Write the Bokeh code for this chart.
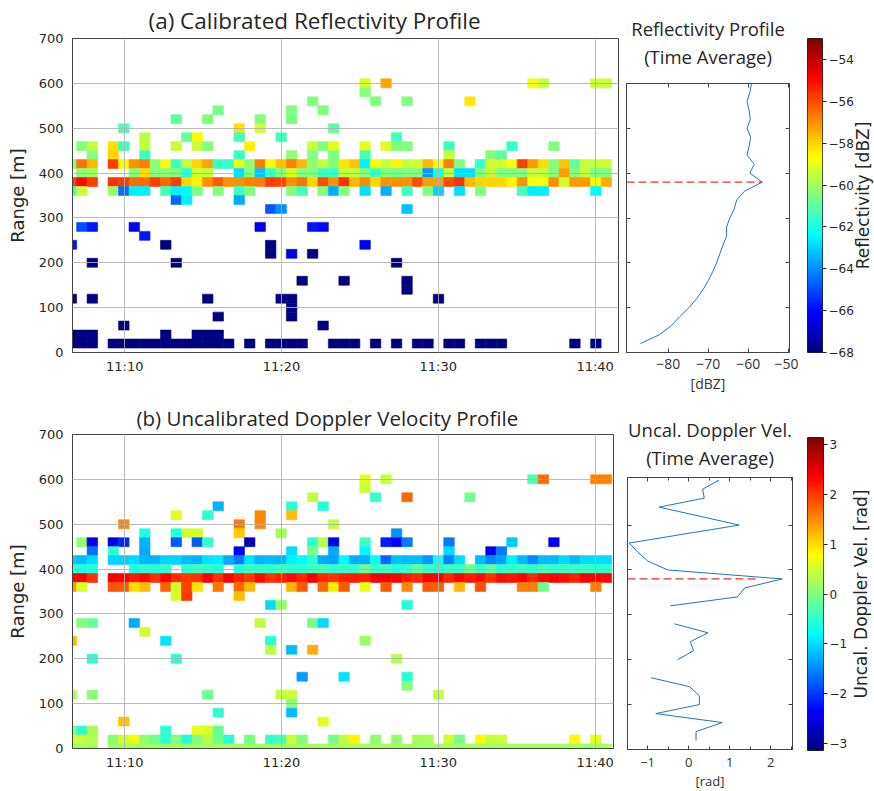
import math
import numpy as np
from bokeh.plotting import figure
from bokeh.layouts import row, column
from bokeh.models import (ColumnDataSource, FixedTicker, LinearAxis, Range1d,
                          LinearColorMapper, CustomLabelingPolicy)
from bokeh.transform import linear_cmap
from bokeh.embed import file_html
from bokeh.resources import INLINE

# ---------------- sampling grid ----------------
T0_MIN = 6.932      # left edge of profile column 0, minutes after 11:00
DT_MIN = 0.669      # one profile every ~40 s
GATE_M = 20         # range gate [m]
X_START = 6.671     # left end of the time axis (minutes after 11:00)
X_END_A = 41.49
X_END_B = 41.17
TIME_TICKS = [10, 20, 30, 40]
TIME_TICK_LABELS = ["11:10", "11:20", "11:30", "11:40"]
RANGE_TICKS = [0, 100, 200, 300, 400, 500, 600, 700]

REFL_LOW, REFL_HIGH = -68.0, -53.0
DOPP_LOW, DOPP_HIGH = -math.pi, math.pi
REFL_CB_TICKS = [-54, -56, -58, -60, -62, -64, -66, -68]
DOPP_CB_TICKS = [3, 2, 1, 0, -1, -2, -3]

# ---------------- (a) calibrated reflectivity: (column, dBZ) per gate -------
refl_r600 = [(27, -59.2), (29, -57.3), (43, -58.8), (44, -59.4), (49, -59.4), (50, -59.4)]
refl_r580 = [(27, -60.5)]
refl_r560 = [(22, -60.5), (28, -60.5), (31, -60.5), (37, -58.3)]
refl_r540 = [(13, -60.7), (20, -60.5), (23, -60.5)]
refl_r520 = [(9, -61.0), (12, -60.5), (17, -60.5), (20, -60.6)]
refl_r500 = [(4, -61.3), (15, -58.2), (17, -59.3), (24, -61.0)]
refl_r480 = [(6, -59.6), (10, -60.8), (11, -58.6), (15, -61.4), (19, -61.4), (30, -61.4)]
refl_r460 = [(0, -60.5), (1, -59.5), (3, -58.2), (4, -61.4), (6, -59.5), (9, -59.4),
             (11, -59.4), (12, -60.5), (16, -58.4), (22, -59.4), (23, -60.5), (24, -59.0),
             (27, -59.0), (29, -59.1), (30, -60.5), (31, -60.5), (35, -61.5), (41, -61.5),
             (45, -60.5)]
refl_r440 = [(1, -60.5), (3, -58.0), (6, -61.5), (15, -61.5), (20, -60.3), (22, -60.5),
             (24, -60.5), (27, -61.3), (35, -59.4), (39, -60.5), (40, -61.0)]
refl_r420 = [(-1, -60.5), (0, -56.6), (1, -57.6), (3, -55.8), (4, -58.6), (5, -57.0),
             (6, -56.8), (7, -60.3), (8, -58.8), (9, -61.5), (10, -59.5), (11, -58.0),
             (12, -57.3), (13, -61.5), (14, -61.6), (15, -58.9), (16, -60.3), (17, -56.7),
             (18, -58.8), (19, -57.8), (20, -56.8), (21, -57.6), (22, -60.3), (23, -59.5),
             (24, -60.5), (25, -58.3), (26, -57.8), (27, -62.5), (28, -58.7), (29, -59.5),
             (30, -58.5), (31, -59.4), (32, -59.3), (33, -57.6), (34, -58.6), (35, -56.8),
             (36, -60.5), (38, -61.6), (39, -59.3), (40, -59.3), (41, -58.6), (42, -55.8),
             (43, -57.2), (44, -58.2), (45, -60.4), (46, -57.8), (47, -61.0), (48, -59.5),
             (49, -59.5), (50, -59.3)]
refl_r400 = [(0, -60.3), (1, -60.0), (5, -60.5), (6, -58.2), (7, -60.5), (8, -60.3),
             (9, -60.5), (10, -61.8), (11, -59.3), (12, -59.6), (15, -62.8), (16, -60.5),
             (17, -63.2), (18, -61.5), (19, -60.5), (20, -59.2), (21, -60.5), (22, -60.4),
             (23, -61.5), (24, -61.5), (25, -59.5), (26, -59.6), (27, -60.5), (28, -61.5),
             (29, -60.5), (30, -60.7), (31, -60.5), (32, -60.5), (33, -63.8), (34, -62.0),
             (35, -59.6), (36, -62.8), (37, -62.8), (38, -60.5), (39, -59.6), (40, -60.5),
             (41, -60.5), (42, -60.5), (43, -59.5), (44, -59.5), (45, -60.5), (46, -57.2),
             (47, -60.5), (48, -59.5), (49, -60.5), (50, -60.5)]
refl_r380 = [(-1, -55.8), (0, -55.0), (1, -55.8), (3, -55.6), (4, -55.8), (5, -56.5),
             (6, -56.4), (7, -55.8), (8, -56.4), (9, -55.8), (10, -58.0), (11, -58.4),
             (12, -57.0), (13, -56.2), (14, -57.0), (15, -57.0), (16, -56.8), (17, -56.8),
             (18, -55.8), (19, -55.9), (20, -57.0), (21, -56.6), (22, -58.0), (23, -56.0),
             (24, -57.0), (25, -55.6), (26, -57.6), (27, -56.9), (28, -58.0), (29, -57.0),
             (30, -57.0), (31, -57.0), (32, -56.0), (33, -57.2), (34, -57.2), (35, -56.0),
             (36, -55.6), (37, -57.6), (38, -58.0), (39, -58.0), (40, -58.0), (41, -58.5),
             (42, -57.0), (43, -58.7), (44, -58.7), (45, -57.0), (46, -59.3), (47, -57.2),
             (48, -57.2), (49, -58.6), (50, -57.4)]
refl_r360 = [(-1, -61.5), (0, -59.4), (3, -60.2), (4, -64.5), (5, -62.6), (6, -62.6),
             (8, -61.4), (9, -62.6), (10, -62.4), (11, -60.5), (13, -60.5), (15, -61.5),
             (16, -60.5), (20, -60.5), (21, -61.4), (23, -60.5), (24, -63.5), (25, -60.5),
             (27, -62.8), (29, -63.5), (31, -61.4), (33, -60.5), (34, -63.0), (36, -62.8),
             (38, -60.5), (42, -61.4), (43, -62.6), (44, -62.6), (49, -62.4)]
refl_r340 = [(9, -64.6), (10, -62.5), (15, -63.6)]
refl_r320 = [(18, -64.8), (19, -64.0), (31, -63.2)]
refl_r280 = [(0, -65.0), (1, -65.8), (5, -66.3), (17, -66.3), (22, -65.8), (23, -66.0)]
refl_r260 = [(6, -65.8)]
refl_r240 = [(-1, -65.8), (8, -68.0), (18, -68.0), (27, -66.3)]
refl_r220 = [(18, -68.0), (20, -66.5), (22, -68.0)]
refl_r200 = [(1, -68.0), (9, -68.0), (30, -68.0)]
refl_r160 = [(21, -68.0), (25, -68.0), (31, -68.0)]
refl_r140 = [(31, -68.0)]
refl_r120 = [(-1, -68.0), (1, -68.0), (12, -68.0), (19, -68.0), (20, -68.0), (34, -68.0)]
refl_r100 = [(20, -68.0)]
refl_r80 = [(13, -68.0), (20, -68.0)]
refl_r60 = [(4, -68.0), (23, -68.0)]
refl_r40 = [(-1, -68.0), (0, -68.0), (1, -68.0), (8, -68.0), (11, -68.0), (12, -68.0),
            (13, -68.0)]
refl_r20 = [(-1, -68.0), (0, -68.0), (1, -68.0), (3, -68.0), (4, -68.0), (5, -68.0),
            (6, -68.0), (7, -68.0), (8, -68.0), (9, -68.0), (10, -68.0), (11, -68.0),
            (12, -68.0), (13, -68.0), (14, -68.0), (16, -68.0), (18, -68.0), (19, -68.0),
            (20, -68.0), (21, -68.0), (24, -68.0), (25, -68.0), (26, -68.0), (28, -68.0),
            (30, -68.0), (32, -68.0), (33, -68.0), (35, -68.0), (36, -68.0), (38, -68.0),
            (39, -68.0), (40, -68.0), (47, -68.0), (49, -68.0)]

# ---------------- (b) uncalibrated Doppler velocity: (column, rad) per gate ---
dopp_r600 = [(27, 0.6), (29, 0.45), (43, -0.3), (44, 1.7), (49, 1.55), (50, 1.55)]
dopp_r580 = [(27, 0.45)]
dopp_r560 = [(22, 0.4), (28, -0.45), (31, 1.7), (37, -0.05)]
dopp_r540 = [(13, -1.25), (20, -0.55), (23, -0.55)]
dopp_r520 = [(9, 0.6), (12, -0.5), (17, 1.5), (20, 1.2)]
dopp_r500 = [(4, 1.5), (15, 1.6), (17, 1.5), (24, 0.4)]
dopp_r480 = [(6, -0.6), (9, -0.55), (10, 0.5), (11, 0.5), (15, 1.1), (19, 0.2), (30, -1.45)]
dopp_r460 = [(0, 0.1), (1, -2.5), (3, -2.5), (4, -2.1), (6, -1.25), (9, -1.8), (11, -1.8),
             (12, -0.45), (16, -2.8), (22, -0.5), (23, 0.3), (24, -2.45), (27, -0.4),
             (29, -2.2), (30, -2.4), (31, -1.6), (35, -1.6), (41, -1.1), (45, -2.45)]
dopp_r440 = [(1, -1.65), (3, -0.5), (6, -1.3), (15, -2.45), (20, -1.0), (22, -0.05),
             (24, -1.3), (27, -0.8), (35, -1.0), (39, -2.45), (40, -1.6)]
dopp_r420 = [(-1, -1.1), (0, -1.2), (1, -1.0), (3, -1.05), (4, -1.05), (5, -1.0), (6, -1.25),
             (7, -1.25), (8, -1.05), (9, -1.05), (10, -1.2), (11, -1.25), (12, -0.95),
             (13, -0.9), (14, -1.3), (15, -1.6), (16, -0.95), (17, -1.25), (18, -1.2),
             (19, -1.25), (20, -0.85), (21, -0.8), (22, -0.5), (23, -1.3), (24, -1.35),
             (25, -0.8), (26, -1.3), (27, -1.3), (28, -0.75), (29, -1.7), (30, -1.15),
             (31, -1.2), (32, -1.2), (33, -1.4), (34, -0.7), (35, -1.55), (36, -1.0),
             (38, -1.2), (39, -1.5), (40, -1.35), (41, -0.85), (42, -1.2), (43, -1.5),
             (44, -1.2), (45, -1.2), (46, -1.0), (47, -1.2), (48, -1.0), (49, -1.0),
             (50, -1.0)]
dopp_r400 = [(-1, -0.5), (0, -0.6), (1, -0.6), (5, -0.6), (6, -0.5), (7, -0.55), (8, -0.45),
             (10, -0.5), (11, -0.4), (12, -0.45), (13, -0.55), (15, -0.55), (16, -0.4),
             (17, -0.45), (18, -0.5), (19, -0.35), (20, -0.5), (21, -0.5), (22, -0.4),
             (23, -0.35), (24, -0.5), (25, -0.45), (26, -0.45), (27, -0.1), (28, -0.45),
             (29, -0.4), (30, -0.55), (31, -0.45), (32, -0.2), (33, -0.4), (34, -0.5),
             (35, -0.4), (36, -0.45), (37, -0.1), (38, -0.4), (39, -0.2), (40, -0.5),
             (41, -0.45), (42, -0.4), (43, -0.5), (44, -0.35), (45, -0.45), (46, -0.4),
             (47, -0.45), (48, -0.4), (49, -0.45), (50, -0.5)]
dopp_r380 = [(-1, 2.35), (0, 2.4), (1, 2.05), (3, 2.4), (4, 2.35), (5, 2.2), (6, 2.3),
             (7, 2.05), (8, 2.35), (9, 2.1), (10, 2.0), (11, 2.05), (12, 2.35), (13, 2.05),
             (14, 2.4), (15, 2.15), (16, 2.0), (17, 2.3), (18, 2.05), (19, 2.15), (20, 2.3),
             (21, 2.1), (22, 2.4), (23, 2.1), (24, 2.05), (25, 2.15), (26, 2.2), (27, 2.15),
             (28, 2.4), (29, 2.45), (30, 2.35), (31, 2.2), (32, 2.1), (33, 2.35), (34, 2.35),
             (35, 2.1), (36, 2.35), (37, 2.2), (38, 2.3), (39, 2.05), (40, 2.3), (41, 2.25),
             (42, 2.35), (43, 2.1), (44, 2.3), (45, 2.35), (46, 2.3), (47, 2.15), (48, 2.4),
             (49, 2.35), (50, 2.3)]
dopp_r360 = [(-1, 1.4), (0, 0.55), (3, 1.85), (4, 1.8), (5, 1.0), (6, 1.2), (8, 1.75),
             (9, 0.5), (10, 1.95), (11, 0.95), (13, 1.6), (15, 1.7), (16, 1.2), (20, 1.25),
             (21, 1.8), (23, 1.7), (24, 0.9), (25, 1.8), (27, 0.65), (29, 1.8), (31, 1.5),
             (33, 1.8), (34, 1.75), (36, 1.2), (38, 1.85), (42, 1.55), (43, 1.55), (44, -0.1),
             (49, 1.55)]
dopp_r340 = [(9, 0.55), (10, 2.0), (15, 1.2)]
dopp_r320 = [(18, -1.0), (19, 0.1), (31, -0.55)]
dopp_r280 = [(0, 0.0), (1, -0.15), (5, -1.3), (17, 0.4), (22, -0.05), (23, -1.0)]
dopp_r260 = [(6, 0.5)]
dopp_r240 = [(-1, 1.2), (8, -0.95), (18, -0.5), (27, 0.15)]
dopp_r220 = [(18, 0.35), (20, -1.2), (22, 1.3)]
dopp_r200 = [(1, -0.55), (9, -0.5), (30, 0.3)]
dopp_r160 = [(21, -1.35), (25, -0.95), (31, -0.55)]
dopp_r140 = [(31, 0.0)]
dopp_r120 = [(-1, 0.2), (1, 0.05), (12, -0.1), (19, 0.4), (20, 0.45), (34, 0.4)]
dopp_r100 = [(20, 0.05)]
dopp_r80 = [(13, -0.5), (20, -1.2)]
dopp_r60 = [(4, 1.15), (23, 0.6)]
dopp_r40 = [(-1, 0.0), (0, -0.5), (1, 0.25), (8, -0.5), (11, 0.65), (12, 0.55), (13, -0.15)]
dopp_r20 = [(-1, 0.5), (0, 0.45), (1, 0.3), (3, 0.05), (4, 0.5), (5, 0.7), (6, 0.1),
            (7, -0.1), (8, -0.5), (9, 0.0), (10, -0.6), (11, 0.0), (12, 0.3), (13, -0.05),
            (14, -0.55), (16, -0.05), (18, -0.45), (19, -0.35), (20, 0.45), (21, 0.0),
            (24, -0.05), (25, 0.4), (26, 0.85), (28, 0.1), (30, 0.1), (32, 0.2), (33, 0.25),
            (35, 0.5), (36, -0.05), (38, 0.8), (39, 0.45), (40, 0.45), (47, 0.8), (49, 0.6)]
dopp_r0 = [(-1, 0.2), (0, 0.2), (1, 0.2), (3, 0.2), (4, 0.2), (5, 0.2), (6, 0.2), (7, 0.2),
           (8, 0.2), (9, 0.2), (10, 0.2), (11, 0.2), (12, 0.2), (13, 0.2), (14, 0.2),
           (15, 0.2), (16, 0.2), (17, 0.2), (18, 0.2), (19, 0.2), (20, 0.2), (21, 0.2),
           (22, 0.2), (23, 0.2), (24, 0.2), (25, 0.2), (26, 0.2), (27, 0.2), (28, 0.2),
           (29, 0.2), (30, 0.2), (31, 0.2), (32, 0.2), (33, 0.2), (34, 0.2), (35, 0.2),
           (36, 0.2), (37, 0.2), (38, 0.2), (39, 0.2), (40, 0.2), (41, 0.2), (42, 0.2),
           (43, 0.2), (44, 0.2), (45, 0.2), (46, 0.2), (47, 0.2), (48, 0.2), (49, 0.2),
           (50, 0.2)]

# ---------------- time-averaged profiles ----------------
prof_range = [20, 40, 60, 80, 100, 120, 140, 160, 180, 200, 220, 240, 260, 280, 300,
              320, 340, 360, 380, 400, 420, 440, 460, 480, 500, 520, 540, 560, 580, 600]
refl_avg = [-86.9, -82.1, -79.2, -77.1, -74.8, -72.9, -71.3, -70.0, -68.9, -67.9,
            -67.1, -66.3, -65.4, -65.4, -64.6, -63.5, -62.9, -60.9, -56.5, -59.6,
            -58.5, -60.3, -59.8, -59.4, -60.3, -59.5, -59.8, -60.3, -59.6, -59.2]
NAN = float("nan")
dopp_avg = [0.18, 0.18, 0.82, -0.80, 0.26, 0.26, 0.02, -0.92, NAN, -0.27,
            0.12, 0.04, 0.47, -0.35, NAN, -0.45, 1.19, 1.37, 2.28, -0.51,
            -1.0, -1.24, -1.45, -0.11, 1.23, 0.26, -0.72, 0.38, 0.34, 0.74]
refl_dash_end = -56.5
dopp_dash_end = 1.72
REFL_PROF_XR = (-90.4, -49.7)
DOPP_PROF_XR = (-1.49, 2.53)
REFL_PROF_XTICKS = [-80, -70, -60, -50]
DOPP_PROF_XTICKS = [-1, 0, 1, 2]
DOPP_PROF_MINOR = [-1.5, -0.5, 0.5, 1.5, 2.5]
PROF_YTICKS = [100, 200, 300, 400, 500]

REFL_ROWS = {600: refl_r600, 580: refl_r580, 560: refl_r560, 540: refl_r540,
             520: refl_r520, 500: refl_r500, 480: refl_r480, 460: refl_r460,
             440: refl_r440, 420: refl_r420, 400: refl_r400, 380: refl_r380,
             360: refl_r360, 340: refl_r340, 320: refl_r320, 280: refl_r280,
             260: refl_r260, 240: refl_r240, 220: refl_r220, 200: refl_r200,
             160: refl_r160, 140: refl_r140, 120: refl_r120, 100: refl_r100,
             80: refl_r80, 60: refl_r60, 40: refl_r40, 20: refl_r20}
DOPP_ROWS = {600: dopp_r600, 580: dopp_r580, 560: dopp_r560, 540: dopp_r540,
             520: dopp_r520, 500: dopp_r500, 480: dopp_r480, 460: dopp_r460,
             440: dopp_r440, 420: dopp_r420, 400: dopp_r400, 380: dopp_r380,
             360: dopp_r360, 340: dopp_r340, 320: dopp_r320, 280: dopp_r280,
             260: dopp_r260, 240: dopp_r240, 220: dopp_r220, 200: dopp_r200,
             160: dopp_r160, 140: dopp_r140, 120: dopp_r120, 100: dopp_r100,
             80: dopp_r80, 60: dopp_r60, 40: dopp_r40, 20: dopp_r20, 0: dopp_r0}


def jet_palette(n=256):
    x = np.linspace(0, 1, n)
    r = np.clip(1.5 - np.abs(4 * x - 3), 0, 1)
    g = np.clip(1.5 - np.abs(4 * x - 2), 0, 1)
    b = np.clip(1.5 - np.abs(4 * x - 1), 0, 1)
    return ["#%02x%02x%02x" % (int(round(255 * R)), int(round(255 * G)), int(round(255 * B)))
            for R, G, B in zip(r, g, b)]


JET = jet_palette()
TXT = "#262626"
SPINE = "#444444"


def no_labels():
    return CustomLabelingPolicy(code="""
const all = [...indices]
for (const i of all) { indices.unset(i) }
return indices
""")


def heatmap(rows, low, high, x_end, frame_w, b_right, b_top, b_bottom, title, t_offset,
            t_size):
    t, r, v = [], [], []
    for rng, cells in rows.items():
        for col, val in cells:
            t.append(T0_MIN + (col + 0.5) * DT_MIN)
            r.append(rng)
            v.append(val)
    src = ColumnDataSource(data=dict(t=t, r=r, v=v))
    p = figure(x_range=Range1d(X_START, x_end), y_range=Range1d(0, 700),
               frame_width=frame_w, frame_height=314,
               min_border_left=72, min_border_right=b_right,
               min_border_top=b_top, min_border_bottom=b_bottom,
               output_backend="svg", toolbar_location=None)
    cmap = linear_cmap("v", JET, low, high)
    p.rect(x="t", y="r", width=DT_MIN, height=GATE_M, source=src,
           fill_color=cmap, line_color=cmap, line_width=0.6)
    p.title.text = title
    p.title.align = "left"
    p.title.offset = t_offset
    p.title.text_font = "Open Sans"
    p.title.text_font_size = t_size
    p.title.text_font_style = "normal"
    p.title.text_color = TXT
    p.title.standoff = 5
    xa, ya = p.below[0], p.left[0]
    xa.ticker = FixedTicker(ticks=TIME_TICKS)
    xa.major_label_overrides = dict(zip(TIME_TICKS, TIME_TICK_LABELS))
    ya.ticker = FixedTicker(ticks=RANGE_TICKS)
    ya.axis_label = "Range [m]"
    for ax in (xa, ya):
        ax.major_label_text_font = "DejaVu Sans"
        ax.major_label_text_font_size = "13px"
        ax.major_label_text_color = TXT
        ax.major_tick_out = 0
        ax.major_tick_in = 0
        ax.minor_tick_out = 0
        ax.minor_tick_in = 0
        ax.major_tick_line_color = None
        ax.minor_tick_line_color = None
        ax.axis_line_color = SPINE
    xa.major_label_standoff = 6
    ya.major_label_standoff = 9
    ya.axis_label_text_font = "DejaVu Sans"
    ya.axis_label_text_font_size = "18px"
    ya.axis_label_text_font_style = "normal"
    ya.axis_label_text_color = TXT
    ya.axis_label_standoff = 8
    p.xgrid.ticker = FixedTicker(ticks=TIME_TICKS)
    p.ygrid.ticker = FixedTicker(ticks=RANGE_TICKS)
    p.grid.grid_line_color = "#b0b0b0"
    p.grid.grid_line_alpha = 0.85
    p.grid.level = "overlay"
    p.outline_line_color = SPINE
    p.background_fill_color = "white"
    return p


def profile(xvals, xr, yr, xticks, minor, xlabel, title1, title2, fw, fh,
            b_left, b_right, b_top, b_bottom, dash_end, lab_size, lab_standoff, t2_standoff):
    p = figure(x_range=Range1d(*xr), y_range=Range1d(*yr),
               frame_width=fw, frame_height=fh,
               min_border_left=b_left, min_border_right=b_right,
               min_border_top=b_top, min_border_bottom=b_bottom,
               output_backend="svg", toolbar_location=None)
    p.grid.visible = False
    src = ColumnDataSource(data=dict(x=xvals, y=prof_range))
    p.line(x="x", y="y", source=src, line_color="#1f77b4", line_width=1)
    peak_r = prof_range[int(np.nanargmax(np.array(xvals, dtype=float)))]
    dsrc = ColumnDataSource(data=dict(x=[xr[0], dash_end], y=[peak_r, peak_r]))
    p.line(x="x", y="y", source=dsrc, line_color="#ff2a2a", line_width=1.2,
           line_dash="8 4")
    xt = FixedTicker(ticks=xticks, minor_ticks=minor)
    yt = FixedTicker(ticks=PROF_YTICKS)
    bx, ly = p.below[0], p.left[0]
    # top tick axis carries the second title line as its label
    top = LinearAxis(ticker=xt, major_label_policy=no_labels(),
                     major_label_text_font_size="1px", major_label_standoff=0,
                     axis_label=title2, axis_label_standoff=t2_standoff,
                     axis_label_text_font="Open Sans", axis_label_text_font_size="18.5px",
                     axis_label_text_font_style="normal", axis_label_text_color=TXT)
    right = LinearAxis(ticker=yt, major_label_policy=no_labels(),
                       major_label_text_font_size="1px", major_label_standoff=0)
    p.add_layout(top, "above")
    p.add_layout(right, "right")
    p.title.text = title1
    p.title.align = "center"
    p.title.text_font = "Open Sans"
    p.title.text_font_size = "18.5px"
    p.title.text_font_style = "normal"
    p.title.text_color = TXT
    p.title.standoff = 0
    bx.ticker = xt
    bx.axis_label = xlabel
    bx.axis_label_text_font = "Open Sans"
    bx.axis_label_text_font_size = lab_size
    bx.axis_label_text_font_style = "normal"
    bx.axis_label_text_color = "#333333"
    bx.axis_label_standoff = 2
    bx.major_label_text_font = "Open Sans"
    bx.major_label_text_font_size = lab_size
    bx.major_label_text_color = "#333333"
    bx.major_label_standoff = lab_standoff
    ly.ticker = yt
    ly.major_label_policy = no_labels()
    ly.major_label_text_font_size = "1px"
    ly.major_label_standoff = 0
    for ax in (bx, ly, top, right):
        ax.major_tick_in = 4
        ax.major_tick_out = 0
        ax.minor_tick_in = 3 if minor else 0
        ax.minor_tick_out = 0
        ax.major_tick_line_color = SPINE
        ax.minor_tick_line_color = SPINE if (minor and ax in (bx, top)) else None
        ax.axis_line_color = SPINE
    p.outline_line_color = SPINE
    return p


def colorbar(low, high, ticks, fh, b_left, b_right, b_top, b_bottom, fw):
    p = figure(x_range=Range1d(0, 1), y_range=Range1d(low, high),
               frame_width=fw, frame_height=fh,
               min_border_left=b_left, min_border_right=b_right,
               min_border_top=b_top, min_border_bottom=b_bottom,
               x_axis_location=None, y_axis_location=None,
               output_backend="svg", toolbar_location=None)
    p.grid.visible = False
    grad = np.linspace(low, high, 256).reshape(256, 1)
    mapper = LinearColorMapper(palette=JET, low=low, high=high)
    p.image(image=[grad], x=0, y=low, dw=1, dh=high - low, color_mapper=mapper)
    ax = LinearAxis(ticker=FixedTicker(ticks=ticks))
    ax.major_label_overrides = {t: str(t).replace("-", "\u2212") for t in ticks}
    ax.major_label_text_font = "DejaVu Sans"
    ax.major_label_text_font_size = "12px"
    ax.major_label_text_color = TXT
    ax.major_label_standoff = 2
    ax.major_tick_out = 4
    ax.major_tick_in = 0
    ax.minor_tick_line_color = None
    ax.major_tick_line_color = "#222222"
    ax.axis_line_color = None
    p.add_layout(ax, "right")
    p.outline_line_color = "#222222"
    return p


def colorbar_title(label, low, high, fh, b_left, b_top, b_bottom, shift, standoff):
    # a label-only axis placed just right of the colour bar (reads bottom-to-top)
    p = figure(x_range=Range1d(0, 1), y_range=Range1d(low, high),
               frame_width=1, frame_height=fh,
               min_border_left=b_left, min_border_right=0,
               min_border_top=b_top, min_border_bottom=b_bottom,
               x_axis_location=None, y_axis_location="left",
               output_backend="svg", toolbar_location=None)
    p.margin = (0, 0, 0, -shift)
    p.grid.visible = False
    p.outline_line_color = None
    p.border_fill_color = None
    p.background_fill_color = None
    ax = p.left[0]
    ax.ticker = FixedTicker(ticks=[])
    ax.major_label_policy = no_labels()
    ax.major_label_text_font_size = "1px"
    ax.major_label_standoff = 0
    ax.major_tick_out = 0
    ax.major_tick_in = 0
    ax.minor_tick_out = 0
    ax.minor_tick_in = 0
    ax.major_tick_line_color = None
    ax.minor_tick_line_color = None
    ax.axis_line_color = None
    ax.axis_label = label
    ax.axis_label_standoff = standoff
    ax.axis_label_text_font = "DejaVu Sans"
    ax.axis_label_text_font_size = "17px"
    ax.axis_label_text_font_style = "normal"
    ax.axis_label_text_color = TXT
    return p


A = heatmap(REFL_ROWS, REFL_LOW, REFL_HIGH, X_END_A, 546, 3, 38, 46,
            "(a) Calibrated Reflectivity Profile", 76, "22.5px")
B = profile(refl_avg, REFL_PROF_XR, (0, 600), REFL_PROF_XTICKS, [], "[dBZ]",
            "Reflectivity Profile", "(Time Average)", 163, 269, 4, 9, 83, 46,
            refl_dash_end, "14px", 6, 11)
C = colorbar(REFL_LOW, REFL_HIGH, REFL_CB_TICKS, 314, 9, 32, 38, 46, 15)
G = colorbar_title("Reflectivity [dBZ]", REFL_LOW, REFL_HIGH, 314, 28, 38, 46, 8, -3)

D = heatmap(DOPP_ROWS, DOPP_LOW, DOPP_HIGH, X_END_B, 541, 6, 36, 43,
            "(b) Uncalibrated Doppler Velocity Profile", 64, "20.5px")
E = profile(dopp_avg, DOPP_PROF_XR, (0, 606), DOPP_PROF_XTICKS, DOPP_PROF_MINOR, "[rad]",
            "Uncal. Doppler Vel.", "(Time Average)", 165, 272, 8, 7, 79, 42,
            dopp_dash_end, "13px", 8, 4)
F = colorbar(DOPP_LOW, DOPP_HIGH, DOPP_CB_TICKS, 313, 8, 32, 39, 41, 16)
H = colorbar_title("Uncal. Doppler Vel. [rad]", DOPP_LOW, DOPP_HIGH, 313, 28, 39, 41, 8, -2)

layout = column(row(column(A), column(B), column(C), column(G)),
                row(column(D), column(E), column(F), column(H)))
open("out.html", "w").write(file_html(layout, INLINE))
